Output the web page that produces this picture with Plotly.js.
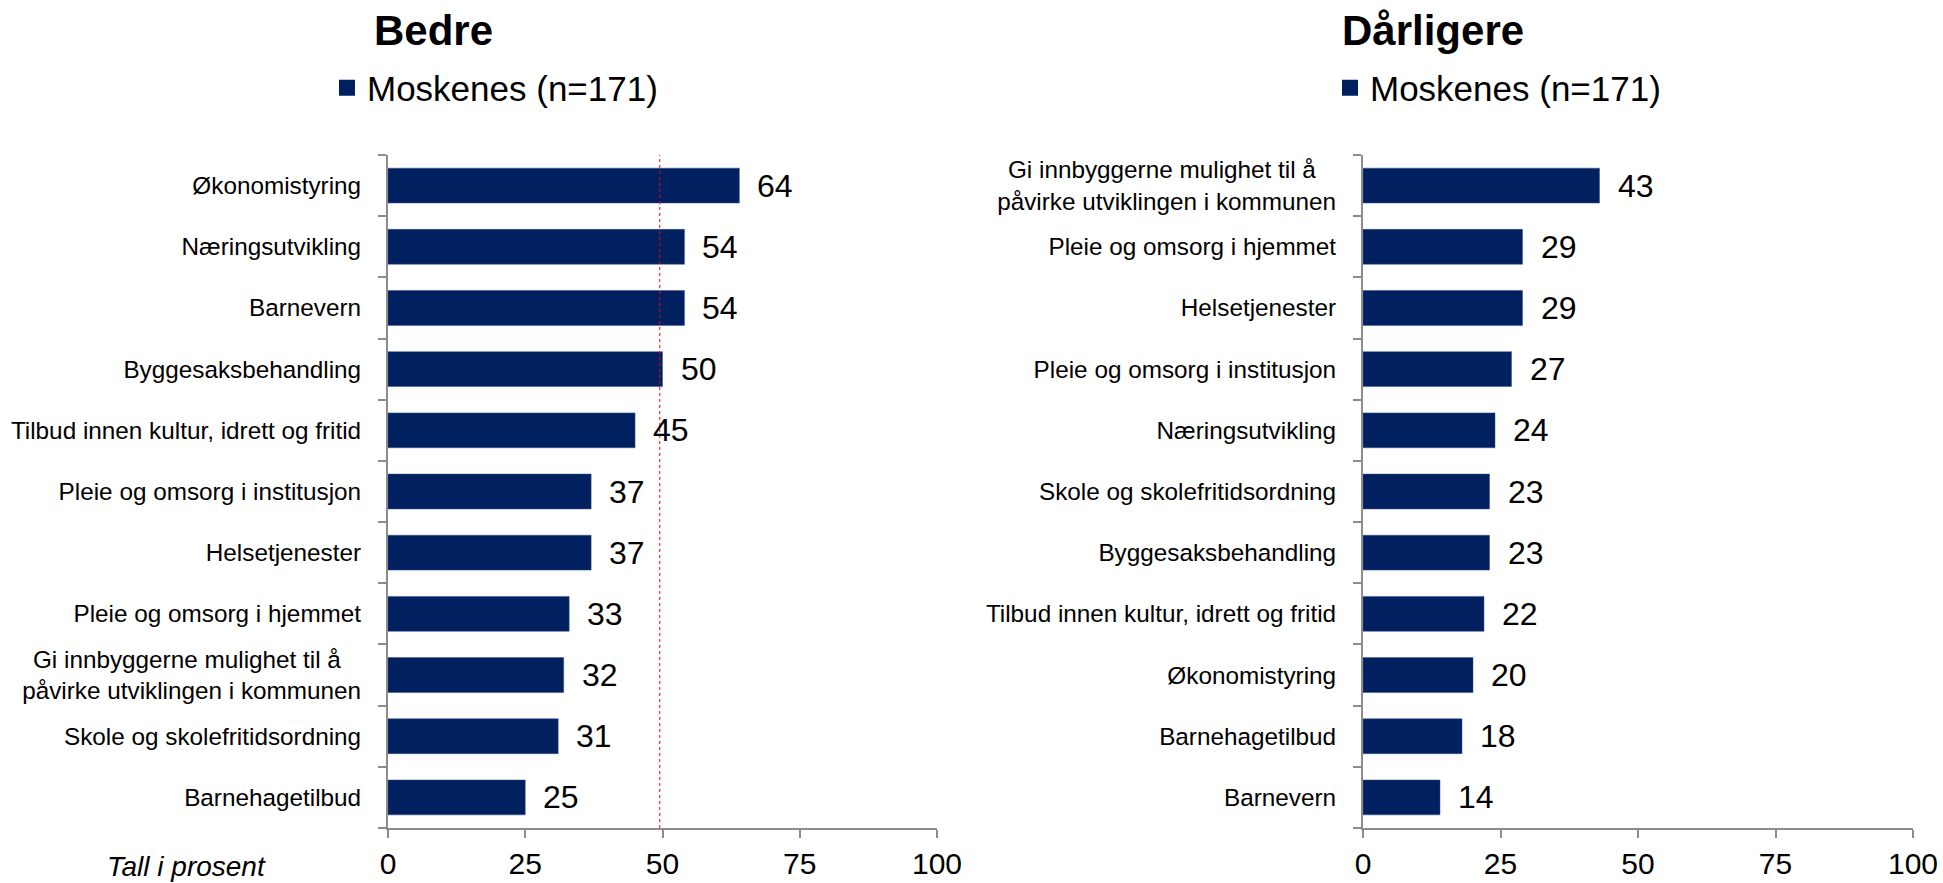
<!DOCTYPE html>
<html>
<head>
<meta charset="utf-8">
<script src="https://cdn.plot.ly/plotly-3.0.1.min.js"></script>
<style>html,body{margin:0;padding:0;background:#fff;}#chart{width:1943px;height:883px;}</style>
</head>
<body>
<div id="chart"></div>
<script>
// ---- data ----
var seriesName = "Moskenes (n=171)";
var titleLeft = "Bedre";
var titleRight = "Dårligere";
var xTitleNote = "Tall i prosent";

var bedreCategories = [
  "Økonomistyring",
  "Næringsutvikling",
  "Barnevern",
  "Byggesaksbehandling",
  "Tilbud innen kultur, idrett og fritid",
  "Pleie og omsorg i institusjon",
  "Helsetjenester",
  "Pleie og omsorg i hjemmet",
  "Gi innbyggerne mulighet til å<br>påvirke utviklingen i kommunen",
  "Skole og skolefritidsordning",
  "Barnehagetilbud"
];
var bedreValues = [64, 54, 54, 50, 45, 37, 37, 33, 32, 31, 25];

var darligereCategories = [
  "Gi innbyggerne mulighet til å<br>påvirke utviklingen i kommunen",
  "Pleie og omsorg i hjemmet",
  "Helsetjenester",
  "Pleie og omsorg i institusjon",
  "Næringsutvikling",
  "Skole og skolefritidsordning",
  "Byggesaksbehandling",
  "Tilbud innen kultur, idrett og fritid",
  "Økonomistyring",
  "Barnehagetilbud",
  "Barnevern"
];
var darligereValues = [43, 29, 29, 27, 24, 23, 23, 22, 20, 18, 14];

var xTickVals = [0, 25, 50, 75, 100];
var referenceLine = 49.5;

// ---- styling ----
var FONT = "Liberation Sans, Arial, sans-serif";
var BAR = "#002060";
var AXIS = "#8c8c8c";
var W = 1943, H = 883;
var plotTop = 155, plotBottom = 828;
var yDom = [(H - plotBottom) / H, (H - plotTop) / H];

function padLabel(c) { return c.replace("<br>", "\u00a0\u00a0\u00a0<br>"); }

var traces = [
  {type: "bar", orientation: "h", x: bedreValues, y: bedreCategories,
   xaxis: "x", yaxis: "y", name: seriesName, showlegend: false,
   marker: {color: BAR, line: {color: "#3b4f86", width: 0.5}}, hoverinfo: "x+y"},
  {type: "bar", orientation: "h", x: darligereValues, y: darligereCategories,
   xaxis: "x2", yaxis: "y2", name: seriesName, showlegend: false,
   marker: {color: BAR, line: {color: "#3b4f86", width: 0.5}}, hoverinfo: "x+y"},
  // legend entries (larger square symbol, as in the reference)
  {type: "scatter", mode: "markers", x: [null], y: [null], xaxis: "x", yaxis: "y",
   name: seriesName, legend: "legend", marker: {symbol: "square", size: 16, color: BAR}},
  {type: "scatter", mode: "markers", x: [null], y: [null], xaxis: "x2", yaxis: "y2",
   name: seriesName, legend: "legend2", marker: {symbol: "square", size: 16, color: BAR}}
];

function xAxis(domain, anchor) {
  return {domain: domain, anchor: anchor, range: [0, 100], tickvals: xTickVals,
    showgrid: false, zeroline: false, showline: true, linecolor: AXIS, linewidth: 2,
    ticks: "outside", ticklen: 8, tickwidth: 2, tickcolor: AXIS, ticklabelstandoff: 0,
    tickfont: {family: FONT, size: 30, color: "#000"}, automargin: false, fixedrange: true};
}
function yAxis(cats, anchor) {
  return {domain: yDom, anchor: anchor, type: "category",
    categoryorder: "array", categoryarray: cats, autorange: "reversed",
    tickvals: cats, ticktext: cats.map(padLabel),
    showgrid: false, zeroline: false, showline: true, linecolor: AXIS, linewidth: 2,
    ticks: "outside", ticklen: 8, tickwidth: 2, tickcolor: AXIS, tickson: "boundaries",
    ticklabelstandoff: 20,
    tickfont: {family: FONT, size: 24.3, color: "#000"}, automargin: false, fixedrange: true};
}

var annotations = [];
bedreCategories.forEach(function (c, i) {
  annotations.push({xref: "x", yref: "y", x: bedreValues[i], y: c, text: String(bedreValues[i]),
    showarrow: false, xanchor: "left", yanchor: "middle", xshift: 16,
    font: {family: FONT, size: 32, color: "#000"}});
});
darligereCategories.forEach(function (c, i) {
  annotations.push({xref: "x2", yref: "y2", x: darligereValues[i], y: c, text: String(darligereValues[i]),
    showarrow: false, xanchor: "left", yanchor: "middle", xshift: 16,
    font: {family: FONT, size: 32, color: "#000"}});
});
annotations.push({xref: "paper", yref: "paper", x: 372 / W, y: 1 - 31 / H, xanchor: "left", yanchor: "middle",
  text: "<b>" + titleLeft + "</b>", showarrow: false, font: {family: FONT, size: 42, color: "#000"}});
annotations.push({xref: "paper", yref: "paper", x: 1340 / W, y: 1 - 31 / H, xanchor: "left", yanchor: "middle",
  text: "<b>" + titleRight + "</b>", showarrow: false, font: {family: FONT, size: 42, color: "#000"}});
annotations.push({xref: "paper", yref: "paper", x: 105 / W, y: 1 - 866 / H, xanchor: "left", yanchor: "middle",
  text: "<i>" + xTitleNote + "</i>", showarrow: false, font: {family: FONT, size: 28, color: "#000"}});

var layout = {
  width: W, height: H, margin: {l: 0, r: 0, t: 0, b: 0},
  paper_bgcolor: "#fff", plot_bgcolor: "#fff",
  bargap: 0.43, showlegend: true,
  xaxis: xAxis([388 / W, 937 / W], "y"),
  yaxis: yAxis(bedreCategories, "x"),
  xaxis2: xAxis([1363 / W, 1913 / W], "y2"),
  yaxis2: yAxis(darligereCategories, "x2"),
  legend: {x: 327 / W, y: 1 - 88 / H, xanchor: "left", yanchor: "middle",
    font: {family: FONT, size: 35, color: "#000"}, bgcolor: "rgba(0,0,0,0)", itemclick: false, itemdoubleclick: false},
  legend2: {x: 1330 / W, y: 1 - 88 / H, xanchor: "left", yanchor: "middle",
    font: {family: FONT, size: 35, color: "#000"}, bgcolor: "rgba(0,0,0,0)", itemclick: false, itemdoubleclick: false},
  shapes: [{type: "line", xref: "x", yref: "y domain", x0: referenceLine, x1: referenceLine, y0: 0, y1: 1,
    line: {color: "#ff0000", width: 1, dash: "dot"}}],
  annotations: annotations
};

Plotly.newPlot("chart", traces, layout, {displayModeBar: false, staticPlot: true});
</script>
</body>
</html>
